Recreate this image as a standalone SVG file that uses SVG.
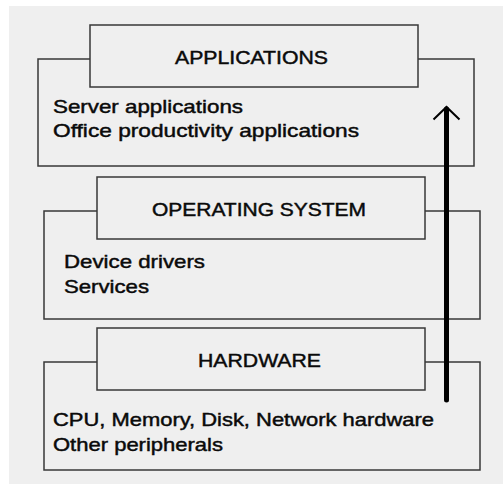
<svg xmlns="http://www.w3.org/2000/svg" width="503" height="484" viewBox="0 0 503 484">
<style>
.box{fill:#efefef;stroke:#383838;stroke-width:1.5}
.t{font-family:"Liberation Sans",Arial,sans-serif;font-size:18.5px;fill:#0a0a0a;stroke:#0a0a0a;stroke-width:0.45}
</style>
<rect x="0" y="0" width="503" height="484" fill="#ffffff"/>
<rect x="9" y="6" width="494" height="478" fill="#efefef"/>
<g id="applications">
<rect class="box" x="38" y="59" width="436" height="107"/>
<rect class="box" x="90" y="25" width="328" height="62"/>
<text class="t" x="175" y="63.5" textLength="153" lengthAdjust="spacingAndGlyphs">APPLICATIONS</text>
<text class="t" x="53" y="112.5" textLength="190" lengthAdjust="spacingAndGlyphs">Server applications</text>
<text class="t" x="53" y="136.5" textLength="306" lengthAdjust="spacingAndGlyphs">Office productivity applications</text>
</g>
<g id="operating-system">
<rect class="box" x="44" y="211" width="436" height="108"/>
<rect class="box" x="97" y="177" width="328" height="62"/>
<text class="t" x="152" y="216" textLength="214" lengthAdjust="spacingAndGlyphs">OPERATING SYSTEM</text>
<text class="t" x="64" y="267.5" textLength="141" lengthAdjust="spacingAndGlyphs">Device drivers</text>
<text class="t" x="64" y="292.5" textLength="85" lengthAdjust="spacingAndGlyphs">Services</text>
</g>
<g id="hardware">
<rect class="box" x="44" y="362" width="436" height="108"/>
<rect class="box" x="97" y="328" width="328" height="62"/>
<text class="t" x="198" y="367" textLength="123" lengthAdjust="spacingAndGlyphs">HARDWARE</text>
<text class="t" x="53" y="426" textLength="381" lengthAdjust="spacingAndGlyphs">CPU, Memory, Disk, Network hardware</text>
<text class="t" x="53" y="451" textLength="170" lengthAdjust="spacingAndGlyphs">Other peripherals</text>
</g>
<g id="connectors">
<line x1="446.5" y1="400" x2="446.5" y2="109" stroke="#000" stroke-width="5" stroke-linecap="round"/>
<polyline points="433.5,119.5 446.5,107 459.5,119.5" fill="none" stroke="#000" stroke-width="2"/>
</g>
</svg>
